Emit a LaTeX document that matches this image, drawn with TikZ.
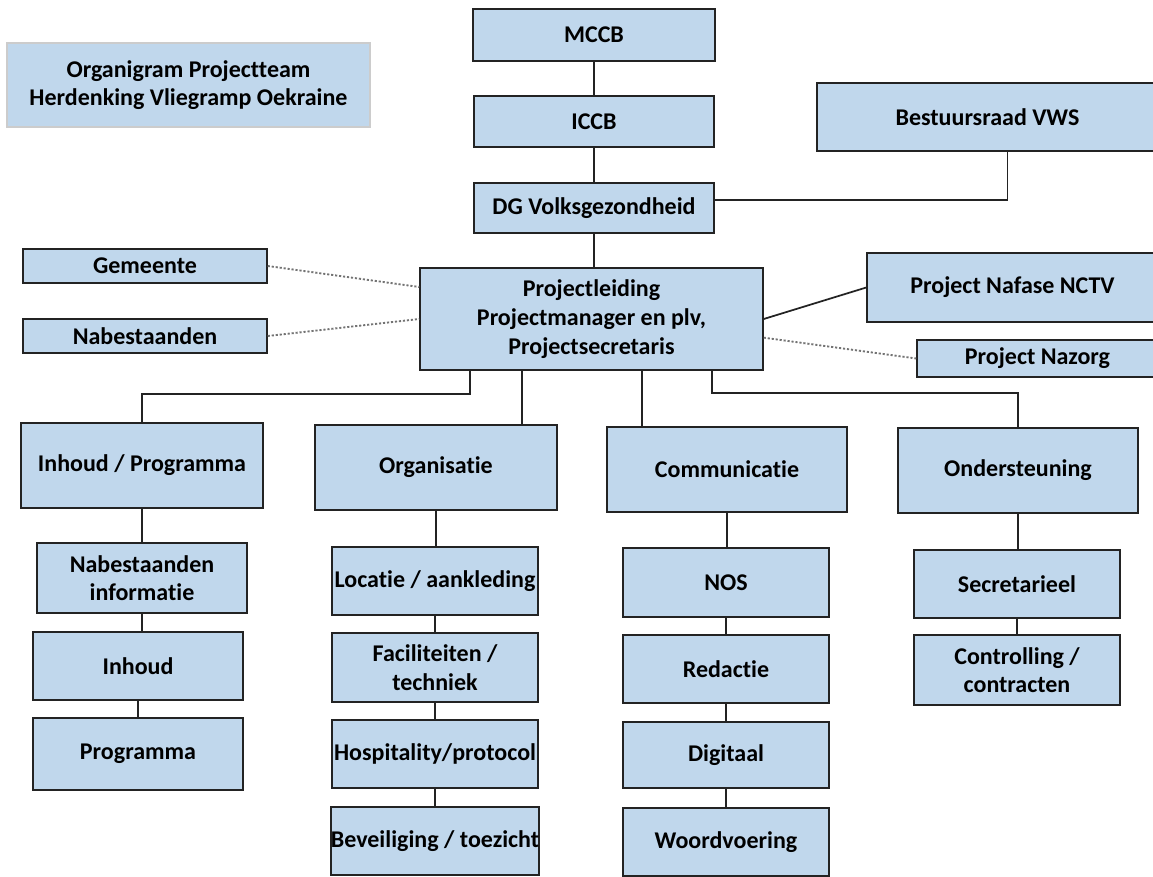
\documentclass[tikz,border=0pt]{standalone}
\usepackage{fontspec}
\setmainfont[Ligatures=NoCommon]{Carlito}
\definecolor{boxfill}{RGB}{192,215,236}
\definecolor{linecol}{RGB}{35,35,35}
\tikzset{
  obox/.style={draw=linecol, line width=1.1pt, fill=boxfill, inner sep=0pt, align=center,
    font=\fontsize{18}{21.5}\selectfont\bfseries, text=black},
  conn/.style={draw=linecol, line width=1.3pt},
  dotconn/.style={draw=black!55, line width=1.4pt, dash pattern=on 1.6pt off 1.4pt},
}
\newcommand\mkbox[7][]{%
  \pgfmathsetmacro\bxcx{(#2+#4)/2}\pgfmathsetmacro\bxcy{(#3+#5)/2}%
  \pgfmathsetmacro\bxw{(#4-#2)*0.75}\pgfmathsetmacro\bxh{(#5-#3)*0.75}%
  \node[obox,#1,minimum width=\bxw pt,minimum height=\bxh pt] (#6) at (\bxcx,\bxcy) {#7};}
\begin{document}
\begin{tikzpicture}[x=0.75pt,y=-0.75pt]
\useasboundingbox (0,0) rectangle (1153,877);
% title
\mkbox[draw=black!20]{7}{43}{370}{127}{title}{Organigram Projectteam\\Herdenking Vliegramp Oekraine}
% top chain
\mkbox{473}{9}{715}{61}{mccb}{MCCB}
\mkbox{474}{96}{714}{147}{iccb}{ICCB}
\mkbox{474}{183}{714}{233}{dg}{DG Volksgezondheid}
\mkbox{817}{83}{1158}{151}{bvws}{Bestuursraad VWS}
% side boxes
\mkbox{23}{249}{267}{283}{gem}{Gemeente}
\mkbox{23}{319}{267}{353}{nab}{Nabestaanden}
\mkbox{420}{268}{763}{370}{pl}{Projectleiding\\Projectmanager en plv,\\Projectsecretaris}
\mkbox{867}{253}{1158}{322}{nafase}{Project Nafase NCTV}
\mkbox{917}{340}{1158}{377}{nazorg}{Project Nazorg}
% departments
\mkbox{21}{423}{263}{508}{ip}{Inhoud / Programma}
\mkbox{315}{425}{557}{510}{org}{Organisatie}
\mkbox{607}{427}{847}{512}{comm}{Communicatie}
\mkbox{898}{428}{1138}{513}{ond}{Ondersteuning}
% inhoud column
\mkbox{37}{543}{247}{613}{nabinfo}{Nabestaanden\\informatie}
\mkbox{33}{632}{243}{700}{inh}{Inhoud}
\mkbox{33}{718}{243}{790}{prog}{Programma}
% organisatie column
\mkbox{332}{547}{538}{615}{loc}{Locatie / aankleding}
\mkbox{332}{633}{538}{702}{fac}{Faciliteiten /\\techniek}
\mkbox{332}{720}{538}{788}{hosp}{Hospitality/protocol}
\mkbox{332}{807}{538}{875}{bev}{Beveiliging / toezicht}
% communicatie column
\mkbox{623}{548}{829}{617}{nos}{NOS}
\mkbox{623}{635}{829}{703}{red}{Redactie}
\mkbox{623}{722}{829}{788}{dig}{Digitaal}
\mkbox{623}{808}{829}{876}{woord}{Woordvoering}
% ondersteuning column
\mkbox{914}{550}{1120}{618}{secr}{Secretarieel}
\mkbox{914}{635}{1120}{705}{contr}{Controlling /\\contracten}
% connectors top
\draw[conn] (mccb) -- (iccb);
\draw[conn] (iccb) -- (dg);
\draw[conn] (dg.south) -- (dg.south |- pl.north);
\draw[conn] ([yshift=6pt]dg.east) -| ([xshift=15pt]bvws.south);
\draw[dotconn] (gem.east) -- ([yshift=24pt]pl.west);
\draw[dotconn] (nab.east) -- (pl.west);
\draw[conn] (pl.east) -- (nafase.west);
\draw[dotconn] ([yshift=-14pt]pl.east) -- (nazorg.west);
% departments
\draw[conn] ([xshift=-91.1pt]pl.south) -- ++(0,23) -| (ip.north);
\draw[conn] ([xshift=-52.1pt]pl.south) coordinate (o1) -- (o1 |- org.north);
\draw[conn] ([xshift=37.9pt]pl.south) coordinate (c1) -- (c1 |- comm.north);
\draw[conn] ([xshift=90.4pt]pl.south) -- ++(0,22) -| (ond.north);
% columns
\draw[conn] (ip.south) -- (ip.south |- nabinfo.north);
\draw[conn] (nabinfo.south) -- (nabinfo.south |- inh.north);
\draw[conn] (inh.south) -- (inh.south |- prog.north);
\draw[conn] (org.south) -- (org.south |- loc.north);
\draw[conn] (loc) -- (fac);
\draw[conn] (fac) -- (hosp);
\draw[conn] (hosp) -- (bev);
\draw[conn] (comm.south) -- (comm.south |- nos.north);
\draw[conn] (nos) -- (red);
\draw[conn] (red) -- (dig);
\draw[conn] (dig) -- (woord);
\draw[conn] (ond.south) -- (ond.south |- secr.north);
\draw[conn] (secr) -- (contr);
\end{tikzpicture}
\end{document}
